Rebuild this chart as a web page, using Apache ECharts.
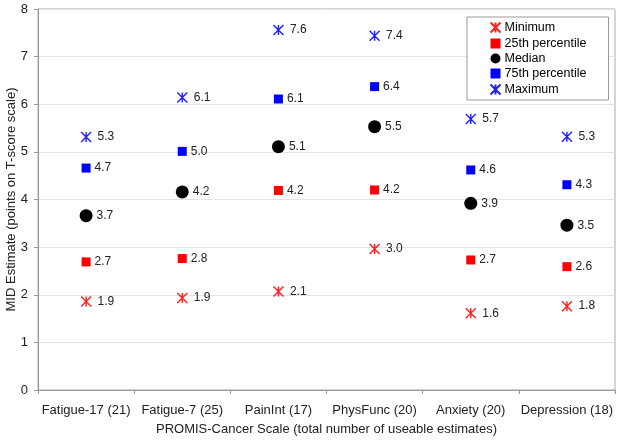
<!DOCTYPE html>
<html>
<head>
<meta charset="utf-8">
<script src="https://cdn.jsdelivr.net/npm/echarts@6/dist/echarts.min.js"></script>
<style>html,body{margin:0;padding:0;background:#fff}#c{width:620px;height:441px}</style>
</head>
<body>
<div id="c"></div>
<script>
const categories = ['Fatigue-17 (21)', 'Fatigue-7 (25)', 'PainInt (17)', 'PhysFunc (20)', 'Anxiety (20)', 'Depression (18)'];
const minimum = [1.86, 1.93, 2.07, 2.96, 1.61, 1.76];
const p25 = [2.69, 2.76, 4.19, 4.2, 2.73, 2.59];
const median = [3.66, 4.16, 5.11, 5.53, 3.92, 3.46];
const p75 = [4.66, 5.01, 6.11, 6.37, 4.62, 4.31];
const maximum = [5.31, 6.14, 7.56, 7.44, 5.69, 5.32];
const yTicks = [0, 1, 2, 3, 4, 5, 6, 7, 8];

const FONT = '"Liberation Sans", Arial, sans-serif';
const star = 'path://M0,0L10,10M10,0L0,10M5,0L5,10';

function mk(name, data, symbol, size, color, isStar) {
  return {
    name: name,
    type: 'scatter',
    data: data,
    symbol: symbol,
    symbolSize: size,
    itemStyle: isStar ? { color: 'none', borderColor: color, borderWidth: 1.4, opacity: 1 } : { color: color, opacity: 1 },
    label: {
      show: true, position: 'right', distance: 4,
      color: '#222', fontSize: 12, fontFamily: FONT,
      formatter: p => p.value.toFixed(1)
    },
    emphasis: { disabled: true }
  };
}

const chart = echarts.init(document.getElementById('c'), null, { renderer: 'canvas' });
chart.setOption({
  animation: false,
  textStyle: { fontFamily: FONT },
  grid: { left: 38, right: 5, top: 9, bottom: 51, outerBoundsMode: 'none', containLabel: false,
    show: true, borderColor: '#aaa', borderWidth: 1, backgroundColor: 'transparent' },
  legend: {
    orient: 'vertical', left: 467, top: 17,
    backgroundColor: '#fff', borderColor: '#999', borderWidth: 1,
    padding: [3, 22, 3, 21], itemGap: 2, itemWidth: 10, itemHeight: 10,
    textStyle: { fontSize: 12.5, lineHeight: 12, color: '#000', fontFamily: FONT, padding: [0, 0, 0, -1] },
    data: ['Minimum', '25th percentile', 'Median', '75th percentile', 'Maximum']
  },
  xAxis: {
    type: 'category', data: categories, boundaryGap: true,
    name: 'PROMIS-Cancer Scale (total number of useable estimates)',
    nameLocation: 'middle', nameGap: 33, nameMoveOverlap: false,
    nameTextStyle: { fontSize: 13, color: '#222', fontFamily: FONT },
    axisLine: { lineStyle: { color: '#999' } },
    axisTick: { show: true, length: 4, lineStyle: { color: '#999' } },
    axisLabel: { fontSize: 13, color: '#222', margin: 14, fontFamily: FONT, interval: 0 },
    splitLine: { show: false }
  },
  yAxis: {
    type: 'value', min: 0, max: 8, interval: 1,
    name: 'MID Estimate (points on T-score scale)',
    nameLocation: 'middle', nameGap: 20, nameRotate: 90, nameMoveOverlap: false,
    nameTextStyle: { fontSize: 13, color: '#222', fontFamily: FONT },
    axisLine: { show: true, lineStyle: { color: '#999' } },
    axisTick: { show: true, length: 4, lineStyle: { color: '#999' } },
    axisLabel: { fontSize: 13, color: '#222', margin: 10, fontFamily: FONT,
      formatter: v => yTicks.includes(v) ? String(v) : '' },
    splitLine: { lineStyle: { color: '#e3e3e3' } }
  },
  series: [
    mk('Minimum', minimum, star, 10, '#ff2020', true),
    mk('25th percentile', p25, 'rect', 9, '#ff0000', false),
    mk('Median', median, 'circle', 13, '#000000', false),
    mk('75th percentile', p75, 'rect', 9, '#0000ff', false),
    mk('Maximum', maximum, star, 10, '#2020ff', true)
  ]
});
</script>
</body>
</html>
